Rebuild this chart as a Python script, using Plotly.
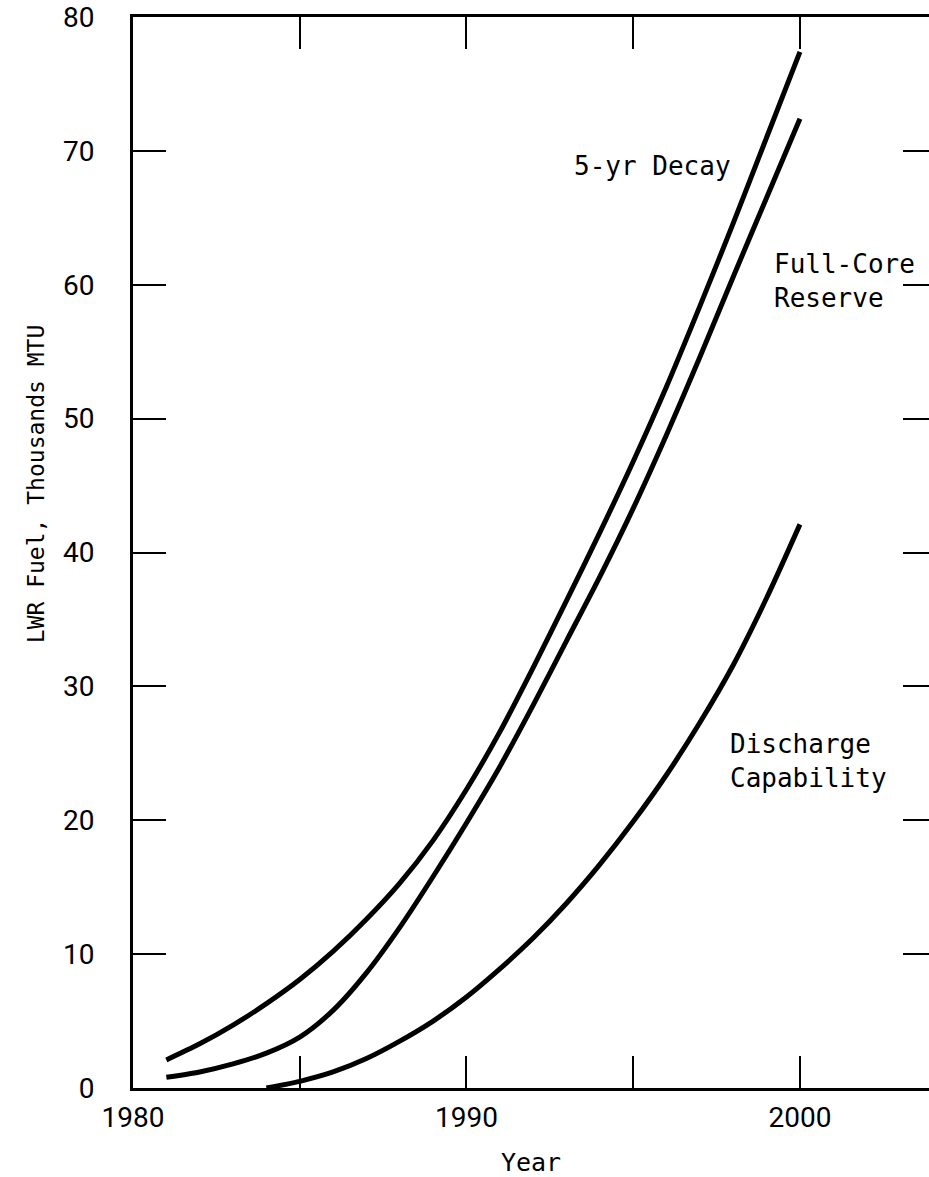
import plotly.graph_objects as go

# Spent LWR fuel storage requirement curves
years_decay = [1981, 1982, 1983, 1984, 1985, 1986, 1987, 1988, 1989, 1990,
               1991, 1992, 1993, 1994, 1995, 1996, 1997, 1998, 1999, 2000]
decay_5yr = [2.1, 3.3, 4.7, 6.3, 8.1, 10.2, 12.6, 15.3, 18.5, 22.3,
             26.6, 31.4, 36.4, 41.5, 46.8, 52.4, 58.4, 64.6, 71.0, 77.4]

years_reserve = [1981, 1982, 1983, 1984, 1985, 1986, 1987, 1988, 1989, 1990,
                 1991, 1992, 1993, 1994, 1995, 1996, 1997, 1998, 1999, 2000]
full_core = [0.8, 1.2, 1.8, 2.6, 3.8, 5.8, 8.6, 12.0, 15.8, 19.8,
             24.0, 28.6, 33.4, 38.2, 43.3, 48.8, 54.6, 60.6, 66.5, 72.4]

years_discharge = [1984, 1985, 1986, 1987, 1988, 1989, 1990, 1991, 1992,
                   1993, 1994, 1995, 1996, 1997, 1998, 1999, 2000]
discharge = [0.0, 0.5, 1.2, 2.2, 3.5, 5.0, 6.8, 8.9, 11.2,
             13.8, 16.7, 19.9, 23.4, 27.3, 31.6, 36.6, 42.1]

x_ticks = [1980, 1985, 1990, 1995, 2000]
x_labels = ["1980", "", "1990", "", "2000"]
y_ticks = [0, 10, 20, 30, 40, 50, 60, 70, 80]
y_labels = ["0", "10", "20", "30", "40", "50", "60", "70", "80"]

X_RANGE = [1980, 2003.87]
Y_RANGE = [0, 80]
MONO = "DejaVu Sans Mono, monospace"
NUMS = "Roboto, Liberation Sans, sans-serif"

fig = go.Figure()

line = dict(color="black", width=5, shape="spline", smoothing=0.8)
fig.add_trace(go.Scatter(x=years_decay, y=decay_5yr, mode="lines",
                         line=line, name="5-yr Decay"))
fig.add_trace(go.Scatter(x=years_reserve, y=full_core, mode="lines",
                         line=line, name="Full-Core Reserve"))
# this one sits on the overlay axes so the top/right ticks get drawn
fig.add_trace(go.Scatter(x=years_discharge, y=discharge, mode="lines",
                         line=line, name="Discharge Capability",
                         xaxis="x2", yaxis="y2"))

# curve labels
fig.add_annotation(x=1993.16, y=68.9, text="5-yr Decay", showarrow=False,
                   xanchor="left", yanchor="middle")
fig.add_annotation(x=1999.16, y=60.3, text="Full-Core<br>Reserve", showarrow=False,
                   xanchor="left", yanchor="middle", align="left")
fig.add_annotation(x=1997.84, y=24.4, text="Discharge<br>Capability", showarrow=False,
                   xanchor="left", yanchor="middle", align="left")

# y title sits a bit above the middle of the axis in the original
fig.add_annotation(xref="paper", x=0, xshift=-97, y=45.1,
                   text="LWR Fuel, Thousands MTU", textangle=-90,
                   showarrow=False, xanchor="center", yanchor="middle",
                   font=dict(family=MONO, size=23))

fig.update_layout(
    width=929, height=1177,
    margin=dict(l=133, r=0, t=17, b=89, pad=0),
    paper_bgcolor="white", plot_bgcolor="white",
    showlegend=False,
    font=dict(family=MONO, size=26, color="black"),
    xaxis=dict(range=X_RANGE, tickvals=x_ticks, ticktext=x_labels,
               ticks="inside", ticklen=32, tickwidth=2, tickcolor="black",
               showline=True, linewidth=3, linecolor="black",
               showgrid=False, zeroline=False, ticklabelstandoff=2,
               tickfont=dict(family=NUMS, size=28),
               title=dict(text="Year", font=dict(family=MONO, size=25), standoff=26)),
    yaxis=dict(range=Y_RANGE, tickvals=y_ticks, ticktext=y_labels,
               ticks="inside", ticklen=33, tickwidth=2, tickcolor="black",
               showline=True, linewidth=3, linecolor="black",
               showgrid=False, zeroline=False, ticklabelstandoff=30,
               tickfont=dict(family=NUMS, size=28)),
    xaxis2=dict(range=X_RANGE, overlaying="x", side="top", anchor="y2",
                tickvals=x_ticks[1:], ticks="inside", ticklen=32, tickwidth=2,
                tickcolor="black", showticklabels=False,
                showline=True, linewidth=3, linecolor="black",
                showgrid=False, zeroline=False),
    yaxis2=dict(range=Y_RANGE, overlaying="y", side="right", anchor="x2",
                tickvals=y_ticks[1:-1], ticks="inside", ticklen=26, tickwidth=2,
                tickcolor="black", showticklabels=False, showline=False,
                showgrid=False, zeroline=False),
)

fig.write_html("out.html", config={"displayModeBar": False},
               post_script="document.body.style.margin='0';")
